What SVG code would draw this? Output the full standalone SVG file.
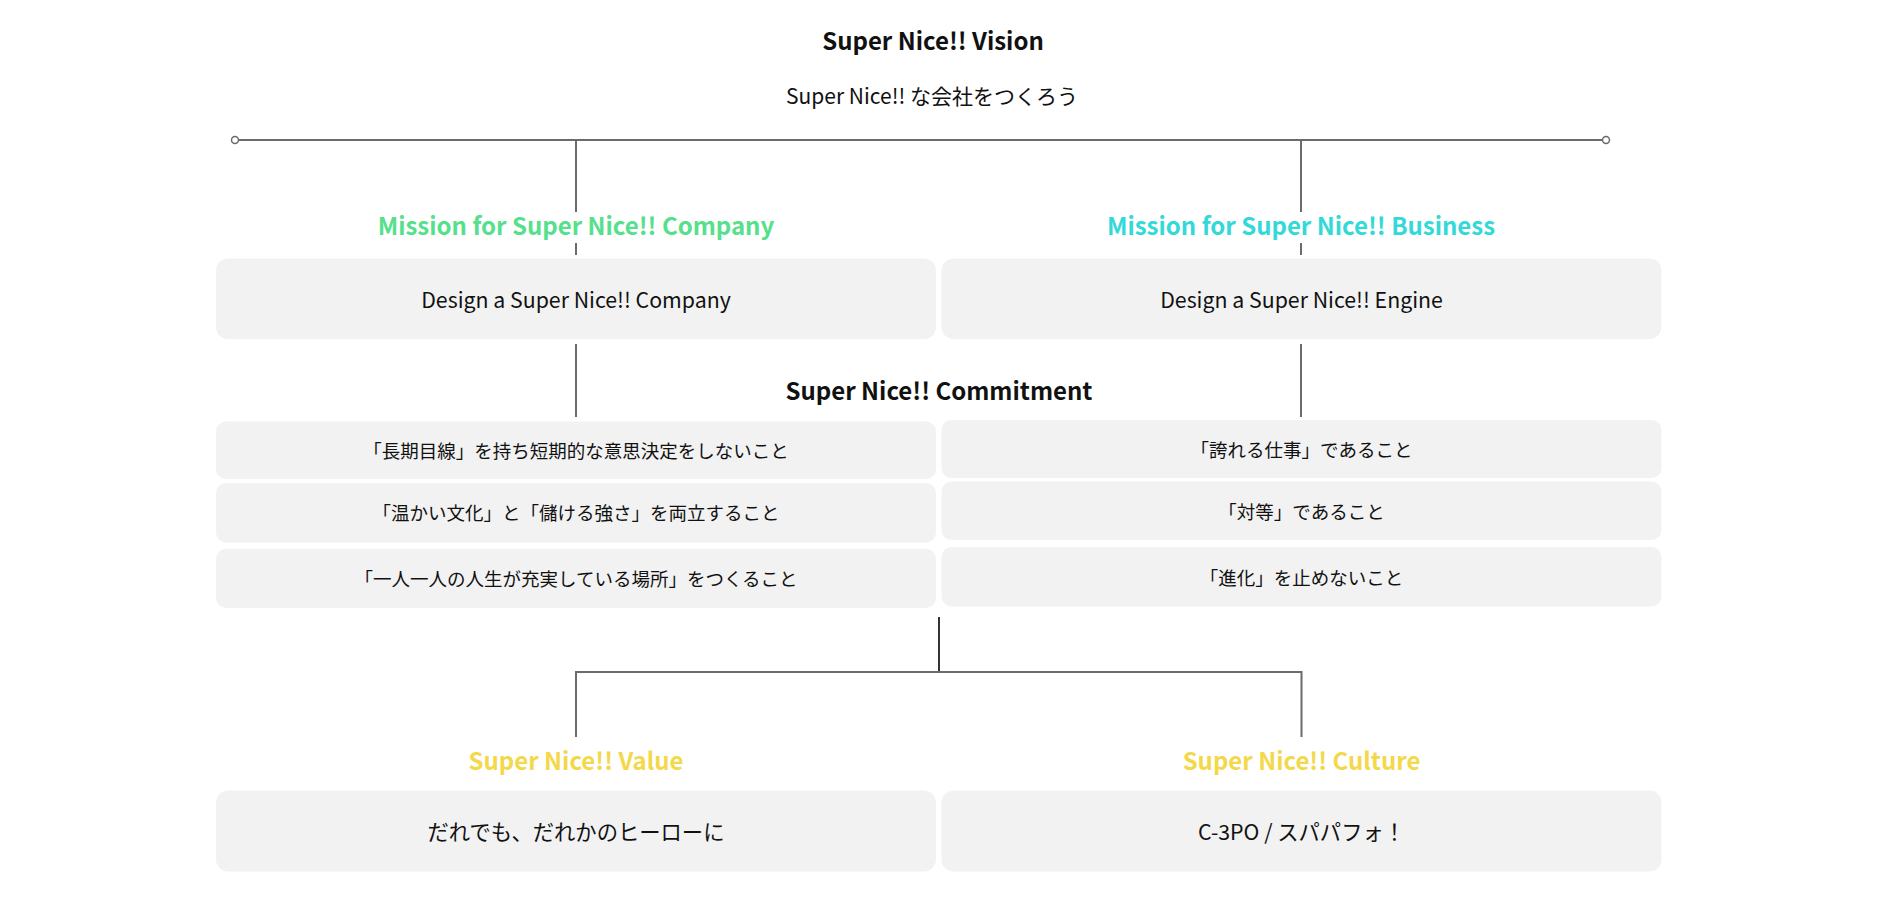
<svg xmlns="http://www.w3.org/2000/svg" width="1878" height="916" viewBox="0 0 1878 916">
<style>
text { font-family: "Noto Sans CJK JP", "Noto Sans", sans-serif; text-anchor: middle; dominant-baseline: central; }
.h { font-weight: 700; font-size: 24px; fill: #111; }
.sub { font-size: 21px; fill: #111; }
.ml { font-weight: 700; font-size: 24px; }
.green { fill: #55e08c; }
.cyan { fill: #33d9d9; }
.yellow { fill: #f3d84b; }
.box { fill: #f2f2f2; }
.bt { font-size: 21.3px; fill: #111; }
.ct { font-size: 18.5px; fill: #111; }
.ln { stroke: #6b6b6b; stroke-width: 2; fill: none; }
.dk { stroke: #333; stroke-width: 2; fill: none; }
.end { fill: #fff; stroke: #6b6b6b; stroke-width: 1.5; }
</style>

<g id="connectors">
  <line class="ln" x1="238" y1="140" x2="1603" y2="140"/>
  <circle class="end" cx="235" cy="140" r="3.5"/>
  <circle class="end" cx="1606" cy="140" r="3.5"/>
  <line class="ln" x1="576" y1="140" x2="576" y2="212"/>
  <line class="ln" x1="576" y1="243" x2="576" y2="255"/>
  <line class="ln" x1="1301" y1="140" x2="1301" y2="212"/>
  <line class="ln" x1="1301" y1="243" x2="1301" y2="255"/>
  <line class="ln" x1="576" y1="344" x2="576" y2="417"/>
  <line class="ln" x1="1301" y1="344" x2="1301" y2="417"/>
  <line class="dk" x1="939" y1="617" x2="939" y2="672"/>
  <polyline class="ln" points="576,737 576,672 1301.5,672 1301.5,737"/>
</g>

<g id="vision">
  <text class="h" x="933" y="39.5">Super Nice!! Vision</text>
  <text class="sub" x="932" y="95">Super Nice!! な会社をつくろう</text>
</g>

<g id="mission-company">
  <text class="ml green" x="576" y="224.5">Mission for Super Nice!! Company</text>
  <rect class="box" x="216" y="258.5" width="720" height="80.5" rx="12"/>
  <text class="bt" x="576" y="298.5">Design a Super Nice!! Company</text>
</g>

<g id="mission-business">
  <text class="ml cyan" x="1301" y="224.5">Mission for Super Nice!! Business</text>
  <rect class="box" x="941.5" y="258.5" width="720" height="80.5" rx="12"/>
  <text class="bt" x="1301.5" y="298.5">Design a Super Nice!! Engine</text>
</g>

<g id="commitment">
  <text class="h" x="939" y="389.5">Super Nice!! Commitment</text>
</g>

<g id="commitment-left">
  <rect class="box" x="216" y="421.5" width="720" height="57.5" rx="10"/>
  <text class="ct" x="576" y="450">「長期目線」を持ち短期的な意思決定をしないこと</text>
  <rect class="box" x="216" y="483" width="720" height="59.5" rx="10"/>
  <text class="ct" x="576" y="512">「温かい文化」と「儲ける強さ」を両立すること</text>
  <rect class="box" x="216" y="549" width="720" height="59" rx="10"/>
  <text class="ct" x="576" y="578">「一人一人の人生が充実している場所」をつくること</text>
</g>

<g id="commitment-right">
  <rect class="box" x="941.5" y="420" width="720" height="58" rx="10"/>
  <text class="ct" x="1301.5" y="449">「誇れる仕事」であること</text>
  <rect class="box" x="941.5" y="481.5" width="720" height="58.5" rx="10"/>
  <text class="ct" x="1301.5" y="510.5">「対等」であること</text>
  <rect class="box" x="941.5" y="547" width="720" height="59.5" rx="10"/>
  <text class="ct" x="1301.5" y="576.5">「進化」を止めないこと</text>
</g>

<g id="value">
  <text class="ml yellow" x="576" y="759.5">Super Nice!! Value</text>
  <rect class="box" x="216" y="790.5" width="720" height="81" rx="12"/>
  <text class="bt" x="576" y="830.5">だれでも、だれかのヒーローに</text>
</g>

<g id="culture">
  <text class="ml yellow" x="1301.5" y="759.5">Super Nice!! Culture</text>
  <rect class="box" x="941.5" y="790.5" width="720" height="81" rx="12"/>
  <text class="bt" x="1301.5" y="830.5">C-3PO / スパパフォ！</text>
</g>
</svg>
